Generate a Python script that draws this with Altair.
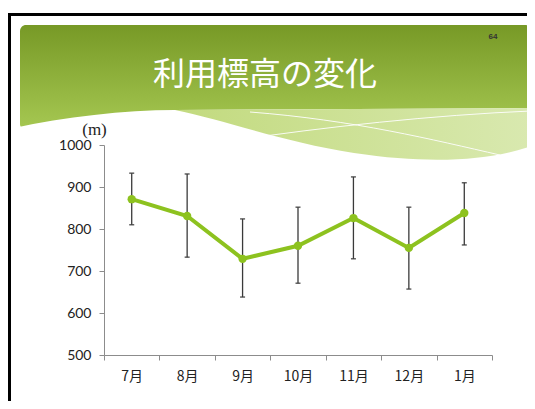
import altair as alt
import pandas as pd

months = ["7月", "8月", "9月", "10月", "11月", "12月", "1月"]
values = [871, 831, 729, 760, 826, 755, 838]
lows = [810, 733, 638, 671, 729, 657, 762]
highs = [933, 931, 824, 852, 924, 852, 910]

title_text = "利用標高の変化"
page_no = "64"
y_unit = "(m)"

df = pd.DataFrame({"month": months, "value": values, "low": lows, "high": highs})
one = alt.Data(values=[{"k": 1}])

W, H = 388, 210
PAD = {"left": 96, "top": 137, "right": 35, "bottom": 46}

green = "#8dc21f"
err_col = "#3a3a3a"

xenc = alt.X(
    "month:N",
    sort=months,
    title=None,
    scale=alt.Scale(type="band", paddingInner=0, paddingOuter=0),
    axis=alt.Axis(
        tickBand="extent", labelAngle=0, labelFont="Noto Sans CJK JP",
        labelFontSize=14, labelColor="#222222", labelPadding=9,
        domainColor="#8c8c8c", tickColor="#8c8c8c", tickSize=5, zindex=1,
    ),
)
yscale = alt.Scale(domain=[500, 1000], nice=False, zero=False)
yenc = alt.Y(
    "value:Q",
    scale=yscale,
    title=y_unit,
    axis=alt.Axis(
        values=[500, 600, 700, 800, 900, 1000], grid=False, format="d",
        labelFont="Lato", labelFontSize=14, labelColor="#222222", labelPadding=8,
        domainColor="#8c8c8c", tickColor="#8c8c8c", tickSize=5, zindex=1,
        titleAngle=0, titleX=-10, titleY=-16, titleAlign="center",
        titleBaseline="middle", titleFont="Liberation Serif", titleFontSize=17,
        titleFontWeight="normal", titleColor="#222222",
    ),
)

grad = alt.LinearGradient(
    gradient="linear",
    stops=[alt.GradientStop(color="#779926", offset=0),
           alt.GradientStop(color="#a6c852", offset=1)],
    x1=0, x2=0, y1=0, y2=1,
)
band_grad = alt.LinearGradient(
    gradient="linear",
    stops=[alt.GradientStop(color="#c2da7e", offset=0),
           alt.GradientStop(color="#d9e9b0", offset=1)],
    x1=0, x2=1, y1=0, y2=0,
)

border_left = alt.Chart(one).mark_rule(color="black", strokeWidth=3).encode(
    x=alt.value(-94.5), y=alt.value(-132), y2=alt.value(270))
border_top = alt.Chart(one).mark_rule(color="black", strokeWidth=3).encode(
    x=alt.value(-96), x2=alt.value(440), y=alt.value(-130.5))

header = alt.Chart(one).mark_rect(fill=grad, cornerRadius=6).encode(
    x=alt.value(-84), x2=alt.value(427), y=alt.value(-120), y2=alt.value(-15))

white_path = "M-90,-17 C-40,-28 20,-35 71,-35 L430,-37 L430,-10 L-90,-10 Z"
band_path = "M71,-35 L430,-37 L430,0 C390,15 330,20 250,8 C180,-3 120,-25 71,-35 Z"
line1 = "M126,-4 C220,-18 330,-30 427,-34"
line2 = "M146,-33 C250,-25 330,-5 396,10"

white_wave = alt.Chart(one).mark_point(
    shape=white_path, size=4, filled=True, fill="white", strokeWidth=0, opacity=1
).encode(x=alt.value(0), y=alt.value(0))
band_wave = alt.Chart(one).mark_point(
    shape=band_path, size=4, filled=True, fill=band_grad, strokeWidth=0, opacity=1
).encode(x=alt.value(0), y=alt.value(0))
lines_deco = alt.layer(*[
    alt.Chart(one).mark_point(
        shape=p, size=4, filled=False, stroke="white", strokeWidth=1, opacity=0.9
    ).encode(x=alt.value(0), y=alt.value(0))
    for p in (line1, line2)
])

title = alt.Chart(one).mark_text(
    text=title_text, font="Noto Sans CJK JP", fontSize=32, color="white",
    align="center", baseline="middle",
).encode(x=alt.value(161), y=alt.value(-70))
pnum = alt.Chart(one).mark_text(
    text=page_no, font="Liberation Sans", fontSize=8, fontWeight="bold",
    color="#333333", align="center", baseline="middle",
).encode(x=alt.value(389), y=alt.value(-108))

base = alt.Chart(df)
err = base.mark_rule(color=err_col, strokeWidth=1.3).encode(
    x=xenc, y=alt.Y("low:Q", scale=yscale), y2="high:Q")
cap_hi = base.mark_tick(color=err_col, size=5, thickness=1.2, opacity=1).encode(
    x=xenc, y=alt.Y("high:Q", scale=yscale))
cap_lo = base.mark_tick(color=err_col, size=5, thickness=1.2, opacity=1).encode(
    x=xenc, y=alt.Y("low:Q", scale=yscale))
line = base.mark_line(color=green, strokeWidth=4).encode(x=xenc, y=yenc)
pts = base.mark_point(filled=True, color=green, size=70, opacity=1).encode(x=xenc, y=yenc)

chart = alt.layer(
    header, white_wave, band_wave, lines_deco, title, pnum,
    border_left, border_top,
    err, cap_hi, cap_lo, line, pts,
).properties(
    width=W, height=H, padding=PAD,
    autosize=alt.AutoSizeParams(type="none"),
    background="white",
).configure_view(stroke=None)

chart.save("out.html", embed_options={"renderer": "svg", "actions": False})
